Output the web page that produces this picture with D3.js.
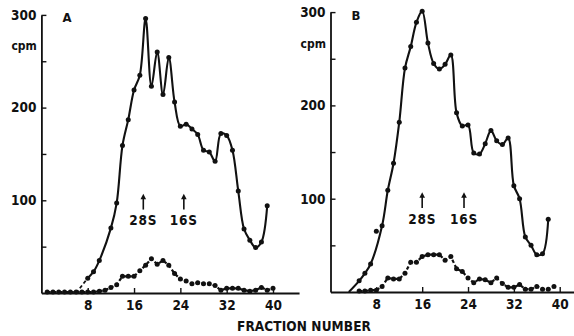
<!DOCTYPE html>
<html>
<head>
<meta charset="utf-8">
<script src="https://cdn.jsdelivr.net/npm/d3@7"></script>
<style>
  body { margin: 0; background: #fff; }
  svg text { font-family: "DejaVu Sans Condensed", "DejaVu Sans", sans-serif; font-weight: bold; fill: #111; }
</style>
</head>
<body>
<svg id="chart" width="574" height="336"></svg>
<script>
// [fraction, cpm]
const solidA = [[8,16],[9,23],[10,35],[12,70],[13,97],[14,159],[15,187],[16,219],[17,235],[18,296],[19,223],[20,260],[21,214],[22,254],[23,206],[24,180],[25,182],[26,177],[27,171],[28,154],[29,152],[30,142],[31,172],[32,170],[33,154],[34,110],[35,69],[36,57],[37,49],[38,55],[39,94]];
const dashedA = [[1,1],[2,1],[3,1],[4,1],[5,1],[6,1],[7,1],[8,1],[9,1],[10,2],[11,3],[12,6],[13,9],[14,18],[15,18],[16,18],[17,24],[18,30],[19,37],[20,31],[21,35],[22,30],[23,21],[24,15],[25,13],[26,10],[27,11],[28,10],[29,10],[30,8],[31,3],[32,5],[33,5],[34,5],[35,3],[36,2],[37,3],[38,6],[39,3],[40,5]];
const solidB = [[5,12],[6,20],[7,30],[8,65],[9,71],[10,109],[11,138],[12,182],[13,240],[14,263],[15,289],[16,301],[17,267],[18,245],[19,239],[20,244],[21,254],[22,192],[23,178],[24,179],[25,149],[26,148],[27,159],[28,173],[29,162],[30,158],[31,165],[32,114],[33,100],[34,59],[35,50],[36,40],[37,41],[38,78]];
const dashedB = [[5,1],[6,1],[7,2],[8,2],[9,6],[10,15],[11,14],[12,14],[13,20],[14,32],[15,32],[16,38],[17,40],[18,40],[19,40],[20,34],[21,38],[22,25],[23,22],[24,15],[25,10],[26,14],[27,13],[28,10],[29,15],[30,9],[31,5],[32,5],[33,8],[34,3],[35,3],[36,6],[37,3],[38,3],[39,6]];

// where the hand drawn curve leaves the baseline
const startA = [6, 0];
const startB = [3.2, 0];
// points the drawn curve does not pass through
const offCurveA = [];
const offCurveB = [8];

// sedimentation markers
const markersA = [{ label: "28S", fraction: 17.6 }, { label: "16S", fraction: 24.6 }];
const markersB = [{ label: "28S", fraction: 16 }, { label: "16S", fraction: 23.3 }];

const xTicks = [8, 16, 24, 32, 40];
const yTicks = [50, 100, 150, 200, 250, 300];
const yLabels = [100, 200, 300];

const panels = [
  { name: "A", solid: solidA, dashed: dashedA, start: startA, startDashed: true, off: offCurveA, markers: markersA,
    left: 41.4, step: 5.79, xMax: 44.5, bottom: 293, unit: 0.927 },
  { name: "B", solid: solidB, dashed: dashedB, start: startB, startDashed: false, off: offCurveB, markers: markersB,
    left: 330.5, step: 5.73, xMax: 42.5, bottom: 292, unit: 0.933 }
];

const svg = d3.select("#chart");

panels.forEach(function (p) {
  var x = d3.scaleLinear().domain([0, p.xMax]).range([p.left, p.left + p.xMax * p.step]);
  var y = d3.scaleLinear().domain([0, 300]).range([p.bottom, p.bottom - 300 * p.unit]);
  var g = svg.append("g");

  // X axis, ticks pointing up
  var gx = g.append("g")
    .attr("transform", `translate(0, ${p.bottom})`)
    .call(d3.axisBottom(x).tickValues(xTicks).tickSizeInner(-5).tickSizeOuter(0).tickPadding(7));

  // Y axis, ticks pointing right
  var gy = g.append("g")
    .attr("transform", `translate(${x(0)}, 0)`)
    .call(d3.axisLeft(y).tickValues(yTicks).tickSizeInner(-5).tickSizeOuter(0).tickPadding(5)
      .tickFormat(function (d) { return yLabels.includes(d) ? d : ""; }));

  [gx, gy].forEach(function (a) {
    a.attr("font-family", null).attr("font-size", null);
    a.select(".domain").attr("stroke", "#111").attr("stroke-width", 1.8);
    a.selectAll(".tick line").attr("stroke", "#111").attr("stroke-width", 1.4);
    a.selectAll(".tick text").style("font-size", "13.5px").attr("fill", "#111");
  });

  g.append("text").attr("x", x(0) - 30).attr("y", y(262)).style("font-size", "12px").text("cpm");
  g.append("text").attr("x", x(0) + 21).attr("y", y(292)).style("font-size", "13px").text(p.name);

  // solid curve
  var curvePts = [p.start].concat(p.solid.filter(function (d) { return !p.off.includes(d[0]); }));
  if (p.startDashed) {
    g.append("path")
      .attr("d", d3.line().x(d => x(d[0])).y(d => y(d[1]))([p.start, p.solid[0]]))
      .attr("fill", "none").attr("stroke", "#111").attr("stroke-width", 1.8)
      .attr("stroke-dasharray", "3.5,2.5");
    curvePts = curvePts.slice(1);
  }
  g.append("path")
    .attr("d", d3.line().x(d => x(d[0])).y(d => y(d[1])).curve(d3.curveCatmullRom.alpha(0.5))(curvePts))
    .attr("fill", "none")
    .attr("stroke", "#111")
    .attr("stroke-width", 2.1)
    .attr("stroke-linejoin", "round");

  // dashed curve
  g.append("path")
    .attr("d", d3.line().x(d => x(d[0])).y(d => y(d[1]))(p.dashed))
    .attr("fill", "none")
    .attr("stroke", "#111")
    .attr("stroke-width", 2.2)
    .attr("stroke-dasharray", "3.5,2.3");

  g.append("g")
    .selectAll("circle")
    .data(p.solid.concat(p.dashed))
    .enter()
    .append("circle")
    .attr("cx", d => x(d[0]))
    .attr("cy", d => y(d[1]))
    .attr("r", 2.5)
    .attr("fill", "#111");

  // arrows with labels
  var m = g.append("g").selectAll("g").data(p.markers).enter().append("g");
  m.append("line")
    .attr("x1", d => x(d.fraction)).attr("x2", d => x(d.fraction))
    .attr("y1", y(90)).attr("y2", y(103))
    .attr("stroke", "#111").attr("stroke-width", 1.6);
  m.append("path")
    .attr("d", d => `M${x(d.fraction) - 2.8},${y(101)} L${x(d.fraction)},${y(107)} L${x(d.fraction) + 2.8},${y(101)} Z`)
    .attr("fill", "#111");
  m.append("text")
    .attr("x", d => x(d.fraction))
    .attr("y", y(73))
    .attr("text-anchor", "middle")
    .style("font-size", "13.5px")
    .style("letter-spacing", "0.8px")
    .text(d => d.label);
});

svg.append("text")
  .attr("x", 304)
  .attr("y", 331)
  .attr("text-anchor", "middle")
  .style("font-size", "13.5px")
  .style("letter-spacing", "0.1px")
  .text("FRACTION NUMBER");
</script>
</body>
</html>
